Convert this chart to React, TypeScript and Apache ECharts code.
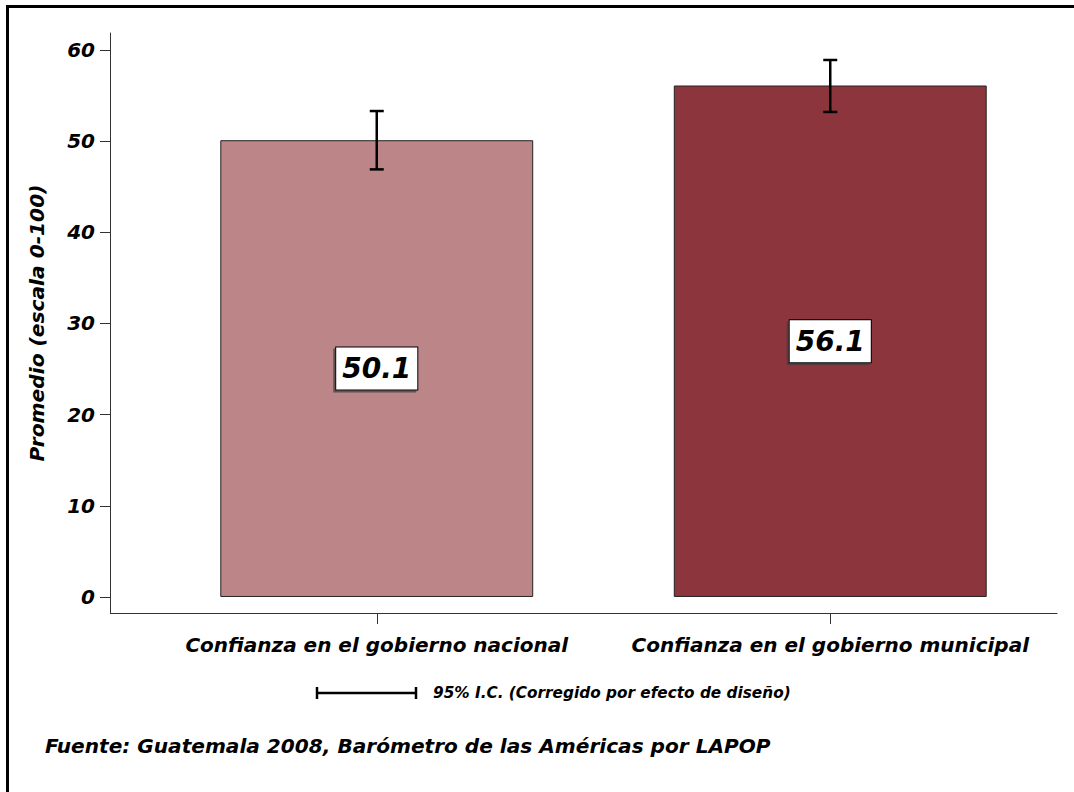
import React, { useEffect, useRef } from "react";
import * as echarts from "echarts";

const categories = ["Confianza en el gobierno nacional", "Confianza en el gobierno municipal"];
const means = [50.1, 56.1];
const ciLow = [46.9, 53.2];
const ciHigh = [53.3, 58.9];
const barColors = ["#bc8587", "#8d353d"];
const yTicks = [0, 10, 20, 30, 40, 50, 60];
const yAxisTitle = "Promedio (escala 0-100)";
const legendText = "95% I.C. (Corregido por efecto de diseño)";
const sourceText = "Fuente: Guatemala 2008, Barómetro de las Américas por LAPOP";

const FONT = "'DejaVu Sans', Verdana, sans-serif";

export default function App() {
  const ref = useRef<HTMLDivElement>(null);
  useEffect(() => {
    if (!ref.current) return;
    const chart = echarts.init(ref.current, undefined, { renderer: "svg" });
    const option: any = {
      animation: false,
      backgroundColor: "#ffffff",
      grid: { left: 150, right: 17, top: 33, bottom: 179, containLabel: false },
      xAxis: {
        type: "category",
        data: categories,
        axisLine: { show: true, onZero: false, lineStyle: { color: "#333", width: 1 } },
        axisTick: { show: true, interval: 0, alignWithLabel: true, length: 11, lineStyle: { color: "#333", width: 1 } },
        axisLabel: {
          interval: 0,
          hideOverlap: false,
          margin: 22,
          color: "#000",
          fontFamily: FONT,
          fontSize: 20,
          fontWeight: "bold",
          fontStyle: "italic",
        },
      },
      yAxis: {
        type: "value",
        min: -1.76,
        max: 61.86,
        offset: 40,
        name: yAxisTitle,
        nameLocation: "middle",
        nameRotate: 90,
        nameGap: 63,
        nameTextStyle: {
          color: "#000",
          fontFamily: FONT,
          fontSize: 20.2,
          fontWeight: "bold",
          fontStyle: "italic",
        },
        splitLine: { show: false },
        axisLine: { show: true, lineStyle: { color: "#333", width: 1 } },
        axisTick: { show: true, length: 10, customValues: yTicks, lineStyle: { color: "#333", width: 1 } },
        axisLabel: {
          customValues: yTicks,
          margin: 15,
          color: "#000",
          fontFamily: FONT,
          fontSize: 20,
          fontWeight: "bold",
          fontStyle: "italic",
        },
      },
      series: [
        {
          type: "bar",
          barWidth: "69%",
          data: means.map((v, i) => ({
            value: v,
            itemStyle: { color: barColors[i], borderColor: "#222", borderWidth: 1 },
          })),
          label: {
            show: true,
            position: "inside",
            formatter: (p: any) => p.value.toFixed(1),
            color: "#000",
            fontFamily: FONT,
            fontSize: 28,
            fontWeight: "bold",
            fontStyle: "italic",
            backgroundColor: "#fff",
            borderColor: "#000",
            borderWidth: 1,
            padding: [7, 6, 7, 6],
            shadowColor: "rgba(60,60,60,0.7)",
            shadowOffsetX: -2,
            shadowOffsetY: 2,
            shadowBlur: 0,
          },
          z: 2,
        },
        {
          type: "custom",
          z: 5,
          data: ciLow.map((lo, i) => [i, lo, ciHigh[i]]),
          renderItem: (params: any, api: any) => {
            const x = api.value(0);
            const lo = api.coord([x, api.value(1)]);
            const hi = api.coord([x, api.value(2)]);
            const hw = 7;
            const style = { stroke: "#000", lineWidth: 2.5 };
            return {
              type: "group",
              children: [
                { type: "line", shape: { x1: lo[0], y1: lo[1], x2: hi[0], y2: hi[1] }, style },
                { type: "line", shape: { x1: lo[0] - hw, y1: lo[1], x2: lo[0] + hw, y2: lo[1] }, style },
                { type: "line", shape: { x1: hi[0] - hw, y1: hi[1], x2: hi[0] + hw, y2: hi[1] }, style },
              ],
            };
          },
        },
      ],
      graphic: [
        {
          type: "rect",
          shape: { x: 7.5, y: 6.5, width: 1200, height: 1000 },
          style: { fill: "none", stroke: "#000", lineWidth: 3 },
          silent: true,
        },
        {
          type: "line",
          shape: { x1: 110, y1: 613.5, x2: 150, y2: 613.5 },
          style: { stroke: "#333", lineWidth: 1 },
        },
        {
          type: "line",
          shape: { x1: 316, y1: 693, x2: 417, y2: 693 },
          style: { stroke: "#000", lineWidth: 2.5 },
        },
        {
          type: "line",
          shape: { x1: 317, y1: 687, x2: 317, y2: 699 },
          style: { stroke: "#000", lineWidth: 2.5 },
        },
        {
          type: "line",
          shape: { x1: 416, y1: 687, x2: 416, y2: 699 },
          style: { stroke: "#000", lineWidth: 2.5 },
        },
        {
          type: "text",
          x: 433,
          y: 693,
          style: {
            text: legendText,
            fill: "#000",
            font: `italic bold 15.3px ${FONT}`,
            verticalAlign: "middle",
          },
        },
        {
          type: "text",
          x: 45,
          y: 746,
          style: {
            text: sourceText,
            fill: "#000",
            font: `italic bold 20.1px ${FONT}`,
            verticalAlign: "middle",
          },
        },
      ],
    };
    chart.setOption(option);
    return () => chart.dispose();
  }, []);
  return (
    <div
      ref={ref}
      style={{ position: "fixed", left: 0, top: 0, width: 1074, height: 792 }}
    />
  );
}
